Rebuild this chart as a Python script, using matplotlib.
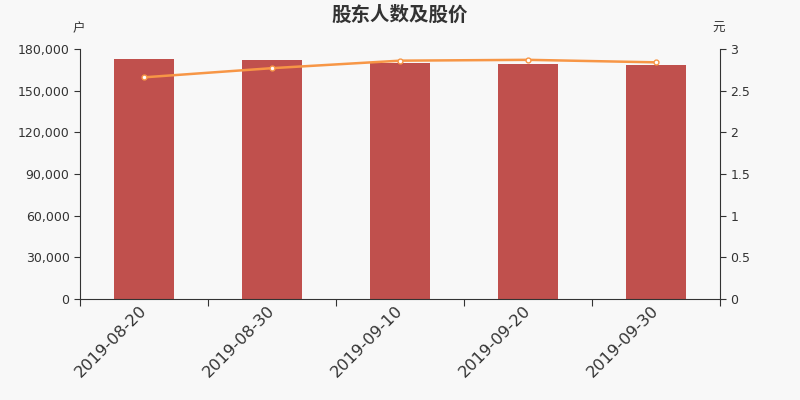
import matplotlib
matplotlib.use("Agg")
import matplotlib.pyplot as plt
from matplotlib.ticker import FuncFormatter, FixedLocator, NullFormatter

plt.rcParams['font.family'] = ['Noto Sans CJK SC', 'DejaVu Sans']

dates = ["2019-08-20", "2019-08-30", "2019-09-10", "2019-09-20", "2019-09-30"]
holders = [172800, 172100, 170200, 169400, 168700]
prices = [2.66, 2.77, 2.86, 2.87, 2.84]

bg = "#f8f8f8"
fig = plt.figure(figsize=(8, 4), dpi=100, facecolor=bg)
ax = fig.add_axes([0.1, 0.2525, 0.8, 0.625], facecolor=bg)
x = list(range(len(dates)))
ax.bar(x, holders, width=0.47, color="#c0504d", zorder=2)
ax.set_xlim(-0.5, len(dates) - 0.5)
ax.set_ylim(0, 180000)
ax.set_yticks(range(0, 180001, 30000))
ax.yaxis.set_major_formatter(FuncFormatter(lambda v, p: f"{int(v):,}"))
ax.xaxis.set_major_locator(FixedLocator([i - 0.5 for i in range(len(dates) + 1)]))
ax.xaxis.set_major_formatter(NullFormatter())
ax.xaxis.set_minor_locator(FixedLocator([i - 0.04 for i in x]))
ax.set_xticklabels(dates, minor=True, rotation=45, ha='right', rotation_mode='anchor',
                   fontsize=11.7, color="#333333", family='DejaVu Sans')
ax.tick_params(axis='x', which='minor', length=0, pad=3)
ax.tick_params(axis='x', which='major', length=5, color="#333333")
ax.tick_params(axis='y', length=4, color="#333333", labelsize=9, labelcolor="#333333")
for lab in ax.get_yticklabels():
    lab.set_family('DejaVu Sans')
for s in ['top', 'right']:
    ax.spines[s].set_visible(False)
for s in ['left', 'bottom']:
    ax.spines[s].set_color("#333333")

ax2 = ax.twinx()
ax2.plot(x, prices, color="#f79646", lw=1.8, marker='o', ms=3.5,
         markerfacecolor='white', markeredgecolor="#f79646", markeredgewidth=1, zorder=3)
ax2.set_ylim(0, 3)
ax2.set_yticks([0, 0.5, 1, 1.5, 2, 2.5, 3])
ax2.set_yticklabels(["0", "0.5", "1", "1.5", "2", "2.5", "3"], family='DejaVu Sans')
ax2.tick_params(axis='y', length=4, color="#333333", labelsize=9, labelcolor="#333333")
for s in ['top', 'left', 'bottom']:
    ax2.spines[s].set_visible(False)
ax2.spines['right'].set_color("#333333")

fig.text(0.5, 0.962, "股东人数及股价", ha='center', va='center', fontsize=14,
         fontweight='bold', color="#333333")
fig.text(0.098, 0.928, "户", ha='center', va='center', fontsize=9, color="#333333")
fig.text(0.898, 0.928, "元", ha='center', va='center', fontsize=9, color="#333333")

fig.savefig("out.png", dpi=100, facecolor=bg)
